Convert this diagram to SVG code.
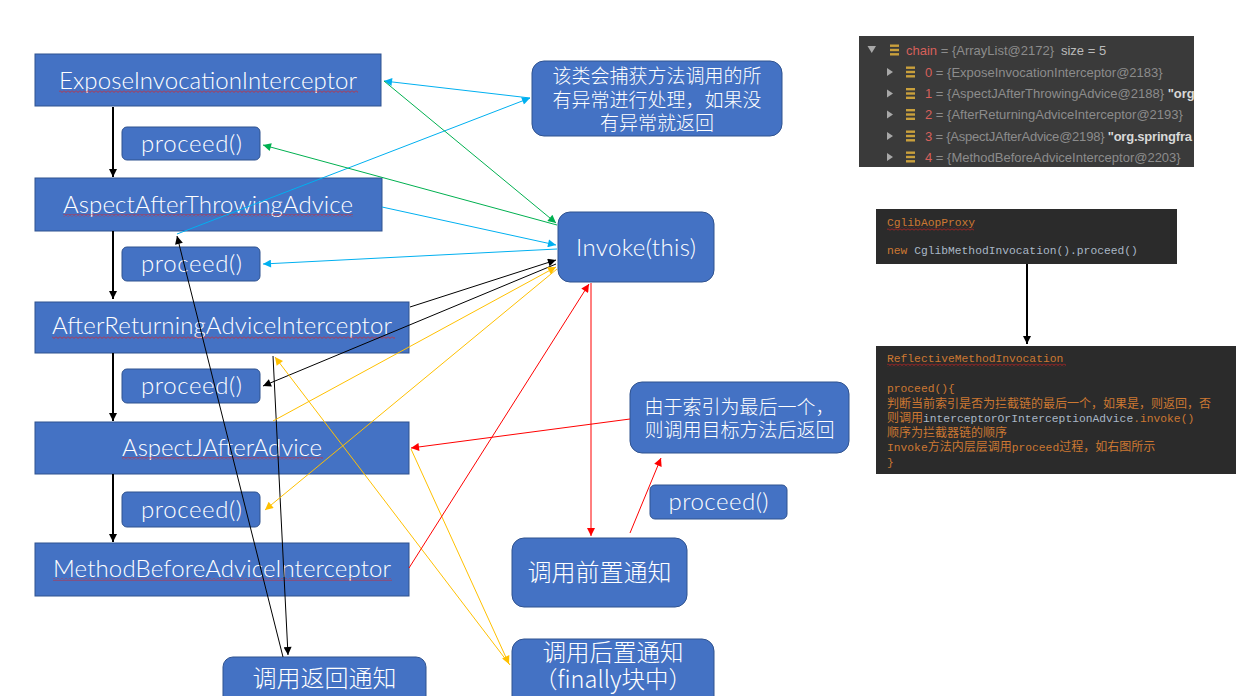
<svg xmlns="http://www.w3.org/2000/svg" width="1251" height="696" viewBox="0 0 1251 696">
<defs>
<style>
.box{fill:#4472C4;stroke:#2F528F;stroke-width:1}
.lbl{font-family:Lato,"Liberation Sans","Noto Sans CJK SC",sans-serif;font-weight:300;font-size:24px;fill:#FFFFFF;text-anchor:middle}
.cjk{font-family:"Noto Sans CJK SC",sans-serif;font-weight:300;fill:#FFFFFF;text-anchor:middle}
.sq{fill:url(#squig)}
.dbgbg{fill:#3A3A3A}
.codebg{fill:#2B2B2B}
.dbg{font-family:"Liberation Sans","Noto Sans CJK SC",sans-serif;font-size:13px;fill:#8C8C8C}
.num{fill:#D6605A}
.lt{fill:#BBBBBB}
.str{fill:#D8D8D8;font-weight:bold}
.tri{fill:#A8A8A8}
.ico{fill:#C9A03C}
.code{font-family:"Liberation Mono","Noto Sans CJK SC",monospace;font-size:11.3px;fill:#CC7832}
.pl{fill:#A9B7C6}
.zh{font-size:12px;font-family:"Noto Sans CJK SC",sans-serif}
.ln{fill:none;stroke-width:1}
.blue{stroke:#00B0F0}
.green{stroke:#00B050}
.black{stroke:#000000}
.yellow{stroke:#FFC000}
.red{stroke:#FF0000}
.thick{stroke:#000000;stroke-width:2;fill:none}
</style>
<pattern id="squig" width="4" height="3" patternUnits="userSpaceOnUse">
<path d="M0,0.5 L2,2.5 L4,0.5" fill="none" stroke="#E02020" stroke-width="0.8"/>
</pattern>
<marker id="mBlue" viewBox="0 0 10 10" refX="10" refY="5" markerWidth="10" markerHeight="8" markerUnits="userSpaceOnUse" orient="auto"><path d="M0,0 L10,5 L0,10 z" fill="#00B0F0"/></marker>
<marker id="mGreen" viewBox="0 0 10 10" refX="10" refY="5" markerWidth="10" markerHeight="8" markerUnits="userSpaceOnUse" orient="auto"><path d="M0,0 L10,5 L0,10 z" fill="#00B050"/></marker>
<marker id="mBlack" viewBox="0 0 10 10" refX="10" refY="5" markerWidth="10" markerHeight="8" markerUnits="userSpaceOnUse" orient="auto"><path d="M0,0 L10,5 L0,10 z" fill="#000000"/></marker>
<marker id="mYellow" viewBox="0 0 10 10" refX="10" refY="5" markerWidth="10" markerHeight="8" markerUnits="userSpaceOnUse" orient="auto"><path d="M0,0 L10,5 L0,10 z" fill="#FFC000"/></marker>
<marker id="mRed" viewBox="0 0 10 10" refX="10" refY="5" markerWidth="10" markerHeight="8" markerUnits="userSpaceOnUse" orient="auto"><path d="M0,0 L10,5 L0,10 z" fill="#FF0000"/></marker>
</defs>
<rect width="1251" height="696" fill="#FFFFFF"/>

<!-- left column -->
<g id="expose">
<rect class="box" x="35" y="54" width="346" height="52"/>
<text class="lbl" x="208" y="89" textLength="298">ExposeInvocationInterceptor</text>
<rect class="sq" x="59" y="90" width="299" height="3"/>
</g>
<g id="proceed1">
<rect class="box" x="122" y="127" width="138" height="33" rx="5"/>
<text class="lbl" x="191.5" y="151.5" textLength="101">proceed()</text>
</g>
<g id="afterThrowing">
<rect class="box" x="35" y="178" width="347" height="53"/>
<text class="lbl" x="208" y="213" textLength="290">AspectAfterThrowingAdvice</text>
<rect class="sq" x="63" y="214" width="290" height="3"/>
</g>
<g id="proceed2">
<rect class="box" x="122" y="247" width="138" height="34" rx="5"/>
<text class="lbl" x="191.5" y="272" textLength="101">proceed()</text>
</g>
<g id="afterReturning">
<rect class="box" x="35" y="302" width="374" height="51"/>
<text class="lbl" x="222" y="334" textLength="340">AfterReturningAdviceInterceptor</text>
<rect class="sq" x="52" y="336" width="343" height="3"/>
</g>
<g id="proceed3">
<rect class="box" x="122" y="369" width="138" height="34" rx="5"/>
<text class="lbl" x="191.5" y="394" textLength="101">proceed()</text>
</g>
<g id="afterAdvice">
<rect class="box" x="35" y="422" width="374" height="52"/>
<text class="lbl" x="222" y="456" textLength="200">AspectJAfterAdvice</text>
<rect class="sq" x="122" y="457" width="201" height="3"/>
</g>
<g id="proceed4">
<rect class="box" x="122" y="492" width="138" height="35" rx="5"/>
<text class="lbl" x="191.5" y="517.5" textLength="101">proceed()</text>
</g>
<g id="methodBefore">
<rect class="box" x="35" y="543" width="374" height="53"/>
<text class="lbl" x="222" y="577" textLength="338">MethodBeforeAdviceInterceptor</text>
<rect class="sq" x="53" y="578" width="339" height="3"/>
</g>

<!-- middle / right nodes -->
<g id="note">
<rect class="box" x="532" y="61" width="250" height="75" rx="12"/>
<text class="cjk" font-size="19" x="657" y="83">该类会捕获方法调用的所</text>
<text class="cjk" font-size="19" x="657" y="107">有异常进行处理，如果没</text>
<text class="cjk" font-size="19" x="657" y="130">有异常就返回</text>
</g>
<g id="invoke">
<rect class="box" x="558" y="212" width="156" height="70" rx="12"/>
<text class="lbl" x="636" y="256" textLength="120">Invoke(this)</text>
</g>
<g id="lastNote">
<rect class="box" x="630" y="382" width="219" height="71" rx="12"/>
<text class="cjk" font-size="19" x="739.5" y="414">由于索引为最后一个，</text>
<text class="cjk" font-size="19" x="739.5" y="437">则调用目标方法后返回</text>
</g>
<g id="proceed5">
<rect class="box" x="650" y="485" width="137" height="34" rx="5"/>
<text class="lbl" x="718.5" y="510" textLength="100">proceed()</text>
</g>
<g id="beforeCall">
<rect class="box" x="512" y="538" width="175" height="69" rx="12"/>
<text class="cjk" font-size="24" x="599.5" y="581">调用前置通知</text>
</g>
<g id="afterCall">
<rect class="box" x="512" y="639" width="202" height="70" rx="12"/>
<text class="cjk" font-size="23.5" x="613" y="661">调用后置通知</text>
<text class="cjk" font-size="23.5" x="613" y="688">（finally块中）</text>
</g>
<g id="returnCall">
<rect class="box" x="223" y="657" width="203" height="50" rx="10"/>
<text class="cjk" font-size="24" x="324.5" y="687">调用返回通知</text>
</g>

<!-- debugger panel -->
<g id="chainPanel">
<rect class="dbgbg" x="859" y="36" width="335" height="131"/>
<polygon class="tri" points="867.5,46 876,46 871.75,53"/>
<rect class="ico" x="890" y="44.5" width="9" height="2.4"/>
<rect class="ico" x="890" y="48.8" width="9" height="2.4"/>
<rect class="ico" x="890" y="53.1" width="9" height="2.4"/>
<text class="dbg" x="906" y="54.5"><tspan class="num">chain</tspan> = {ArrayList@2172}<tspan class="lt" dx="7">size = 5</tspan></text>

<polygon class="tri" points="887,68 887,76 893,72"/>
<rect class="ico" x="906" y="66.5" width="9" height="2.4"/><rect class="ico" x="906" y="70.8" width="9" height="2.4"/><rect class="ico" x="906" y="75.1" width="9" height="2.4"/>
<text class="dbg" x="925" y="76.5"><tspan class="num">0</tspan> = {ExposeInvocationInterceptor@2183}</text>

<polygon class="tri" points="887,89.5 887,97.5 893,93.5"/>
<rect class="ico" x="906" y="88" width="9" height="2.4"/><rect class="ico" x="906" y="92.3" width="9" height="2.4"/><rect class="ico" x="906" y="96.6" width="9" height="2.4"/>
<text class="dbg" x="925" y="98"><tspan class="num">1</tspan> = {AspectJAfterThrowingAdvice@2188} <tspan class="str">"org</tspan></text>

<polygon class="tri" points="887,110.5 887,118.5 893,114.5"/>
<rect class="ico" x="906" y="109" width="9" height="2.4"/><rect class="ico" x="906" y="113.3" width="9" height="2.4"/><rect class="ico" x="906" y="117.6" width="9" height="2.4"/>
<text class="dbg" x="925" y="119"><tspan class="num">2</tspan> = {AfterReturningAdviceInterceptor@2193}</text>

<polygon class="tri" points="887,132 887,140 893,136"/>
<rect class="ico" x="906" y="130.5" width="9" height="2.4"/><rect class="ico" x="906" y="134.8" width="9" height="2.4"/><rect class="ico" x="906" y="139.1" width="9" height="2.4"/>
<text class="dbg" x="925" y="140.5" textLength="267"><tspan class="num">3</tspan> = {AspectJAfterAdvice@2198} <tspan class="str">"org.springfra</tspan></text>

<polygon class="tri" points="887,153 887,161 893,157"/>
<rect class="ico" x="906" y="151.5" width="9" height="2.4"/><rect class="ico" x="906" y="155.8" width="9" height="2.4"/><rect class="ico" x="906" y="160.1" width="9" height="2.4"/>
<text class="dbg" x="925" y="161.5"><tspan class="num">4</tspan> = {MethodBeforeAdviceInterceptor@2203}</text>
</g>

<!-- code panels -->
<g id="cglibPanel">
<rect class="codebg" x="876" y="209" width="301" height="55"/>
<text class="code" x="887" y="226">CglibAopProxy</text>
<rect class="sq" x="887" y="227.5" width="87" height="3"/>
<text class="code" x="887" y="254">new <tspan class="pl">CglibMethodInvocation().proceed()</tspan></text>
</g>
<g id="reflectivePanel">
<rect class="codebg" x="876" y="346" width="360" height="128"/>
<text class="code" x="887" y="362">ReflectiveMethodInvocation</text>
<rect class="sq" x="887" y="363.5" width="179" height="3"/>
<text class="code" x="887" y="392">proceed(){</text>
<text class="code" x="887" y="407.5"><tspan class="zh">判断当前索引是否为拦截链的最后一个，如果是，则返回，否</tspan></text>
<text class="code" x="887" y="421.5"><tspan class="zh">则调用</tspan><tspan class="pl">interceptorOrInterceptionAdvice</tspan>.invoke()</text>
<text class="code" x="887" y="436.5"><tspan class="zh">顺序为拦截器链的顺序</tspan></text>
<text class="code" x="887" y="451">Invoke<tspan class="zh">方法内层层调用</tspan>proceed<tspan class="zh">过程，如右图所示</tspan></text>
<text class="code" x="887" y="465.5">}</text>
</g>

<!-- connectors -->
<g id="connectors">
<line class="thick" x1="113" y1="107" x2="113" y2="177" marker-end="url(#mBlack)"/>
<line class="thick" x1="113" y1="231" x2="113" y2="299" marker-end="url(#mBlack)"/>
<line class="thick" x1="113" y1="353" x2="113" y2="421" marker-end="url(#mBlack)"/>
<line class="thick" x1="113" y1="474" x2="113" y2="542" marker-end="url(#mBlack)"/>
<line class="thick" x1="1027" y1="264" x2="1027" y2="344" marker-end="url(#mBlack)"/>

<line class="ln blue" x1="530" y1="98" x2="384" y2="81" marker-end="url(#mBlue)"/>
<line class="ln blue" x1="177" y1="234" x2="530" y2="98" marker-end="url(#mBlue)"/>
<line class="ln blue" x1="382" y1="207" x2="556" y2="245" marker-end="url(#mBlue)"/>
<line class="ln blue" x1="557" y1="249" x2="263" y2="264" marker-end="url(#mBlue)"/>

<line class="ln green" x1="384" y1="81" x2="556" y2="223" marker-end="url(#mGreen)"/>
<line class="ln green" x1="557" y1="225" x2="263" y2="145" marker-end="url(#mGreen)"/>

<line class="ln black" x1="410" y1="307" x2="556" y2="260" marker-end="url(#mBlack)"/>
<line class="ln black" x1="556" y1="264" x2="263" y2="386" marker-end="url(#mBlack)"/>
<line class="ln black" x1="283" y1="657" x2="177" y2="236" marker-end="url(#mBlack)"/>
<line class="ln black" x1="273" y1="356" x2="288" y2="655" marker-end="url(#mBlack)"/>

<line class="ln yellow" x1="273" y1="421" x2="556" y2="267" marker-end="url(#mYellow)"/>
<line class="ln yellow" x1="557" y1="269" x2="265" y2="510" marker-end="url(#mYellow)"/>
<line class="ln yellow" x1="510" y1="665" x2="275" y2="357" marker-end="url(#mYellow)"/>
<line class="ln yellow" x1="411" y1="449" x2="509" y2="664" marker-end="url(#mYellow)"/>

<line class="ln red" x1="409" y1="568" x2="589" y2="284" marker-end="url(#mRed)"/>
<line class="ln red" x1="591" y1="283" x2="591" y2="536" marker-end="url(#mRed)"/>
<line class="ln red" x1="630" y1="533" x2="661" y2="458" marker-end="url(#mRed)"/>
<line class="ln red" x1="630" y1="419" x2="411" y2="448" marker-end="url(#mRed)"/>
</g>
</svg>
